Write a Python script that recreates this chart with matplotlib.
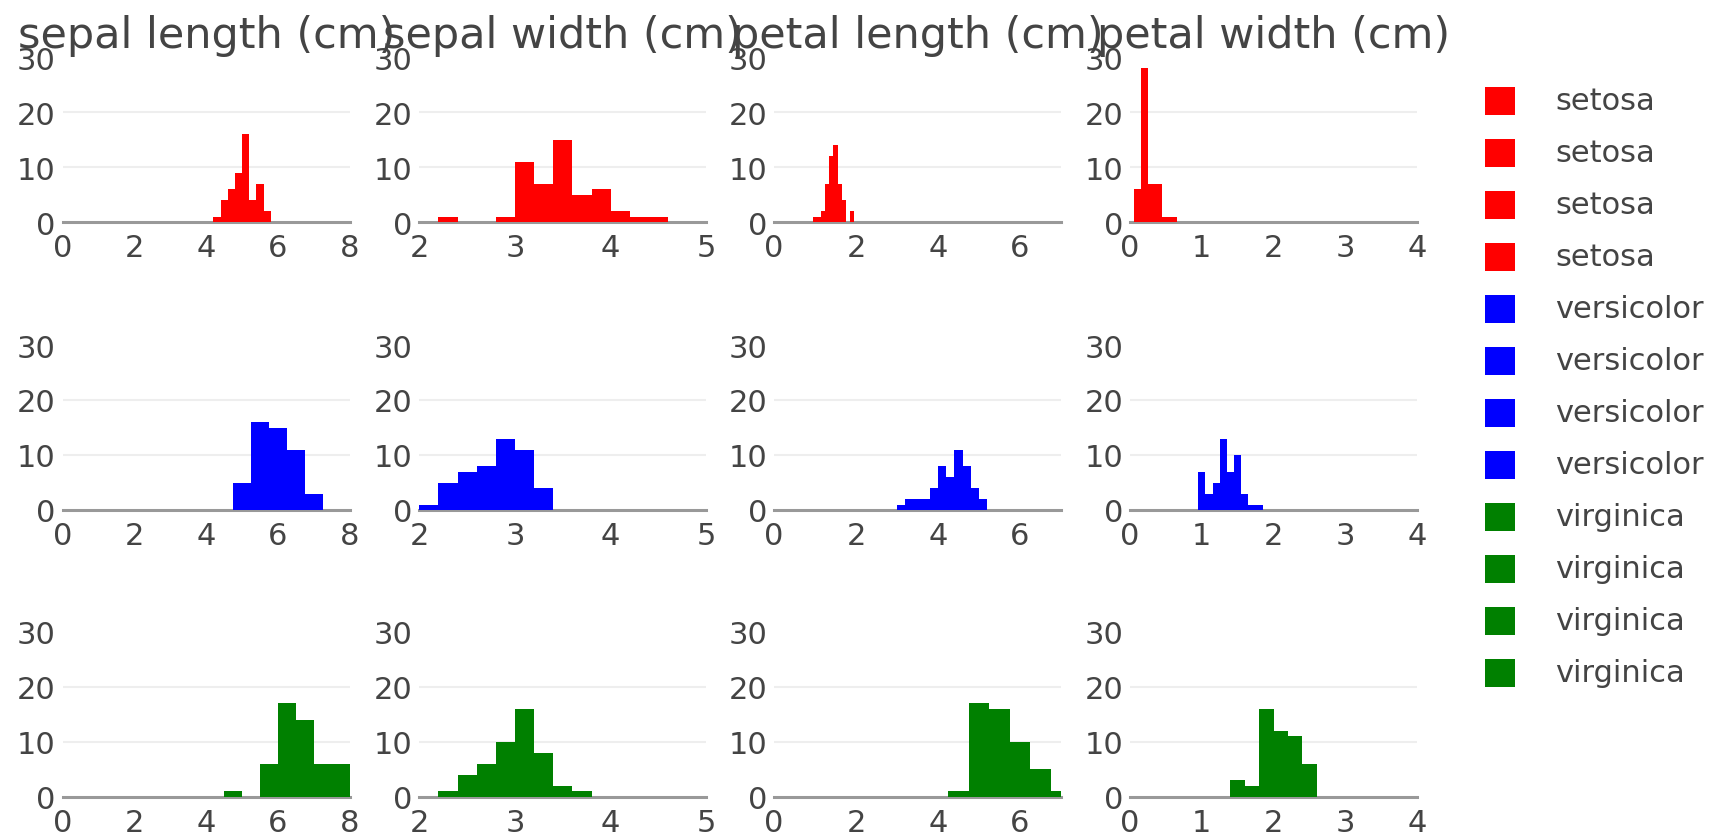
"""
Iris histograms by species and feature, in a plotly-like 3x4 grid.
"""

import matplotlib
matplotlib.use("Agg")  # Headless
import matplotlib.pyplot as plt
from matplotlib.patches import Rectangle
import numpy as np

plt.rcParams['font.family'] = ['DejaVu Sans']

features = ['sepal length (cm)', 'sepal width (cm)', 'petal length (cm)', 'petal width (cm)']
species = ['setosa', 'versicolor', 'virginica']
colors = ['#ff0000', '#0000ff', '#008000']

# bin start / bin width / counts per feature
setosa_start = [4.2, 2.2, 0.95, 0.05]
setosa_width = [0.2, 0.2, 0.1, 0.1]
setosa_counts = [
    [1, 4, 6, 9, 16, 4, 7, 2],
    [1, 0, 0, 1, 11, 7, 15, 5, 6, 2, 1, 1],
    [1, 1, 2, 7, 12, 14, 7, 4, 0, 2],
    [6, 28, 7, 7, 1, 1],
]

versicolor_start = [4.75, 2.0, 3.0, 0.95]
versicolor_width = [0.5, 0.2, 0.2, 0.1]
versicolor_counts = [
    [5, 16, 15, 11, 3],
    [1, 5, 7, 8, 13, 11, 4],
    [1, 2, 2, 2, 4, 8, 6, 11, 8, 4, 2],
    [7, 3, 5, 13, 7, 10, 3, 1, 1],
]

virginica_start = [4.5, 2.2, 4.25, 1.4]
virginica_width = [0.5, 0.2, 0.5, 0.2]
virginica_counts = [
    [1, 0, 6, 17, 14, 6, 6],
    [1, 4, 6, 10, 16, 8, 2, 1],
    [1, 17, 16, 10, 5, 1],
    [3, 2, 16, 12, 11, 6],
]

x_ranges = [(0, 8), (2, 5), (0, 7), (0, 4)]
x_ticks = [[0, 2, 4, 6, 8], [2, 3, 4, 5], [0, 2, 4, 6], [0, 1, 2, 3, 4]]
y_ticks = [0, 10, 20, 30]

starts = [setosa_start, versicolor_start, virginica_start]
widths = [setosa_width, versicolor_width, virginica_width]
counts = [setosa_counts, versicolor_counts, virginica_counts]

W, H = 1719, 837
fig = plt.figure(figsize=(W / 100, H / 100), dpi=100)

# layout in pixels
col_left = [62.7, 419.3, 774, 1130]
row_zero = [223.3, 511, 797.7]
ax_w, ax_h = 287, 165

TEXT = '#444444'
TICK_FS = 22

for r in range(3):
    for c in range(4):
        ax = fig.add_axes([col_left[c] / W, 1 - row_zero[r] / H, ax_w / W, ax_h / H])
        n = counts[r][c]
        edges = starts[r][c] + widths[r][c] * np.arange(len(n) + 1)
        ax.stairs(n, edges, fill=True, color=colors[r], linewidth=0, zorder=3)

        ax.set_xlim(*x_ranges[c])
        ax.set_ylim(0, 30)
        ax.set_xticks(x_ticks[c])
        ax.set_yticks(y_ticks)
        for y in (10, 20):
            ax.axhline(y, color='#eeeeee', linewidth=1.5, zorder=1)
        ax.axhline(0, color='#999999', linewidth=2.2, zorder=2, clip_on=False)
        for s in ax.spines.values():
            s.set_visible(False)
        ax.tick_params(length=0, labelsize=TICK_FS, labelcolor=TEXT)
        ax.tick_params(axis='x', pad=8)
        ax.tick_params(axis='y', pad=5)
        ax.patch.set_alpha(0)

# column titles (they overlap each other, as in the original)
for c, name in enumerate(features):
    cx = (col_left[c] + ax_w / 2) / W
    fig.text(cx, 1 - 48 / H, name, ha='center', va='baseline',
             fontsize=31, color=TEXT)

# legend
for i in range(12):
    k = i // 4
    yc = 102 + i * 52
    fig.patches.append(Rectangle(((1500 - 15) / W, 1 - (yc + 14) / H), 30 / W, 28 / H,
                                 transform=fig.transFigure, facecolor=colors[k],
                                 edgecolor='none'))
    fig.text(1555 / W, 1 - yc / H, species[k], ha='left', va='center',
             fontsize=TICK_FS, color=TEXT)

plt.savefig('out.png', dpi=100)
plt.close(fig)
